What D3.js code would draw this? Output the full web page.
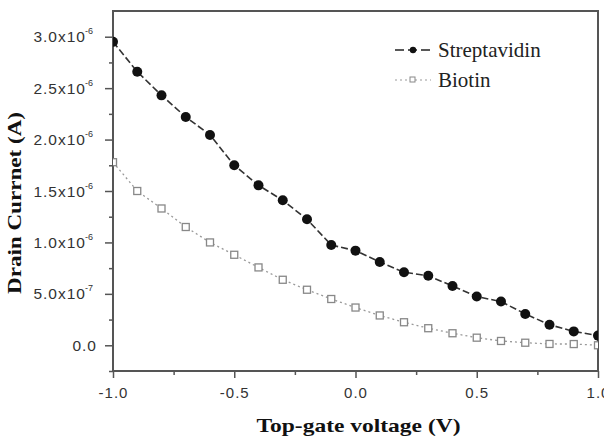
<!DOCTYPE html>
<html>
<head>
<meta charset="utf-8">
<script src="https://d3js.org/d3.v7.min.js"></script>
<style>
  body { margin: 0; background: #fff; }
</style>
</head>
<body>
<div id="my_dataviz"></div>
<script>
// create data
var voltage = [-1.0, -0.9, -0.8, -0.7, -0.6, -0.5, -0.4, -0.3, -0.2, -0.1, 0.0,
               0.1, 0.2, 0.3, 0.4, 0.5, 0.6, 0.7, 0.8, 0.9, 1.0];

var streptavidin = [2.95e-6, 2.66e-6, 2.43e-6, 2.22e-6, 2.045e-6, 1.75e-6, 1.555e-6,
                    1.41e-6, 1.225e-6, 0.975e-6, 0.92e-6, 0.81e-6, 0.71e-6, 0.676e-6,
                    0.576e-6, 0.474e-6, 0.425e-6, 0.305e-6, 0.2e-6, 0.135e-6, 0.094e-6];

var biotin = [1.78e-6, 1.50e-6, 1.33e-6, 1.15e-6, 1.0e-6, 0.88e-6, 0.757e-6,
              0.637e-6, 0.54e-6, 0.45e-6, 0.367e-6, 0.29e-6, 0.224e-6, 0.166e-6,
              0.117e-6, 0.074e-6, 0.042e-6, 0.025e-6, 0.013e-6, 0.012e-6, 0.0];

var seriesNames = ["Streptavidin", "Biotin"];

// tick labels
var xTicks = [-1.0, -0.5, 0.0, 0.5, 1.0];
var xTickLabels = ["-1.0", "-0.5", "0.0", "0.5", "1.0"];
var xMinor = [-0.75, -0.25, 0.25, 0.75];

var yTicks = [0, 5e-7, 1e-6, 1.5e-6, 2e-6, 2.5e-6, 3e-6];
var yTickMant = ["0.0", "5.0", "1.0", "1.5", "2.0", "2.5", "3.0"];
var yTickExp = ["", "-7", "-6", "-6", "-6", "-6", "-6"];
var yMinor = [-2.5e-7, 2.5e-7, 7.5e-7, 1.25e-6, 1.75e-6, 2.25e-6, 2.75e-6];

// set the dimensions and margins of the graph
var margin = {top: 11, right: 6, bottom: 70, left: 113},
    width = 604 - margin.left - margin.right,
    height = 441 - margin.top - margin.bottom;

var svg = d3.select("#my_dataviz")
  .append("svg")
    .attr("width", 604)
    .attr("height", 441)
  .append("g")
    .attr("transform", "translate(" + margin.left + "," + margin.top + ")");

var x = d3.scaleLinear().domain([-1, 1]).range([0, width]);
var y = d3.scaleLinear().domain([-0.25e-6, 3.25e-6]).range([height, 0]);

var frameColor = "#555";

// clip so that edge markers are cut by the frame
svg.append("clipPath").attr("id", "clip")
  .append("rect").attr("width", width).attr("height", height);

// minor ticks
svg.append("g")
    .attr("transform", "translate(0," + height + ")")
    .call(d3.axisBottom(x).tickValues(xMinor).tickSize(4).tickFormat(""))
    .call(function(g) { g.select(".domain").remove(); })
    .selectAll("line").attr("stroke", frameColor).attr("stroke-width", 1.5);
svg.append("g")
    .call(d3.axisLeft(y).tickValues(yMinor).tickSize(4).tickFormat(""))
    .call(function(g) { g.select(".domain").remove(); })
    .selectAll("line").attr("stroke", frameColor).attr("stroke-width", 1.5);

// X axis
var xAxis = svg.append("g")
    .attr("transform", "translate(0," + height + ")")
    .call(d3.axisBottom(x).tickValues(xTicks).tickSize(7).tickPadding(9)
      .tickFormat(function(d, i) { return xTickLabels[i]; }));
xAxis.select(".domain").remove();
xAxis.selectAll("line").attr("stroke", frameColor).attr("stroke-width", 1.5);
xAxis.selectAll("text")
    .attr("fill", "#333")
    .style("font-family", "'Liberation Sans', Arial, sans-serif")
    .style("font-size", "15px")
    .style("letter-spacing", "1px");

// Y axis: mantissa x 10 with superscript exponent
var yAxis = svg.append("g")
    .call(d3.axisLeft(y).tickValues(yTicks).tickSize(8).tickFormat(""));
yAxis.select(".domain").remove();
yAxis.selectAll("line").attr("stroke", frameColor).attr("stroke-width", 1.5);
yAxis.selectAll(".tick").each(function(d, i) {
  var t = d3.select(this).append("text")
      .attr("x", yTickExp[i] ? -20 : -16)
      .attr("y", 5)
      .attr("text-anchor", "end")
      .attr("fill", "#333")
      .style("font-family", "'Liberation Sans', Arial, sans-serif")
      .style("font-size", "15.5px");
  if (yTickExp[i]) {
    t.append("tspan").style("letter-spacing", "1px").text(yTickMant[i] + "x10");
    t.append("tspan")
      .attr("dx", -1)
      .attr("dy", -8)
      .style("font-size", "9px")
      .text(yTickExp[i]);
  } else {
    t.style("letter-spacing", "1px").text(yTickMant[i]);
  }
});

// frame
svg.append("rect")
    .attr("width", width)
    .attr("height", height)
    .attr("fill", "none")
    .attr("stroke", frameColor)
    .attr("stroke-width", 2);

// lines
var plot = svg.append("g").attr("clip-path", "url(#clip)");

var line = function(vals) {
  return d3.line()
    .x(function(d, i) { return x(voltage[i]); })
    .y(function(d) { return y(d); })(vals);
};

plot.append("path")
    .attr("d", line(biotin))
    .attr("fill", "none")
    .attr("stroke", "#999")
    .attr("stroke-width", 1.3)
    .attr("stroke-dasharray", "2,3");

plot.append("path")
    .attr("d", line(streptavidin))
    .attr("fill", "none")
    .attr("stroke", "#333")
    .attr("stroke-width", 1.6)
    .attr("stroke-dasharray", "7,3");

plot.selectAll(".sq")
  .data(biotin)
  .enter()
  .append("rect")
    .attr("x", function(d, i) { return x(voltage[i]) - 3.5; })
    .attr("y", function(d) { return y(d) - 3.5; })
    .attr("width", 7)
    .attr("height", 7)
    .attr("fill", "#fff")
    .attr("stroke", "#888")
    .attr("stroke-width", 1.3);

plot.selectAll(".dot")
  .data(streptavidin)
  .enter()
  .append("circle")
    .attr("cx", function(d, i) { return x(voltage[i]); })
    .attr("cy", function(d) { return y(d); })
    .attr("r", 5)
    .attr("fill", "#111");

// legend
var leg = svg.append("g").attr("transform", "translate(282,0)");
leg.append("line").attr("x1", 0).attr("x2", 36).attr("y1", 39).attr("y2", 39)
    .attr("stroke", "#222").attr("stroke-width", 1.6).attr("stroke-dasharray", "9,4");
leg.append("circle").attr("cx", 18).attr("cy", 39).attr("r", 3.2).attr("fill", "#111");
leg.append("line").attr("x1", 0).attr("x2", 36).attr("y1", 69).attr("y2", 69)
    .attr("stroke", "#999").attr("stroke-width", 1.2).attr("stroke-dasharray", "2,3");
leg.append("rect").attr("x", 15).attr("y", 66).attr("width", 5).attr("height", 5)
    .attr("fill", "#fff").attr("stroke", "#888").attr("stroke-width", 1);
leg.selectAll(".lt")
  .data(seriesNames)
  .enter()
  .append("text")
    .attr("x", 43)
    .attr("y", function(d, i) { return 46 + i * 30; })
    .attr("fill", "#222")
    .style("font-family", "'Liberation Serif', 'Times New Roman', serif")
    .style("font-size", "21px")
    .text(function(d) { return d; });

// axis titles
svg.append("text")
    .attr("x", width / 2 + 3)
    .attr("y", height + 61)
    .attr("text-anchor", "middle")
    .attr("textLength", 204)
    .attr("lengthAdjust", "spacingAndGlyphs")
    .attr("fill", "#111")
    .style("font-family", "'Liberation Serif', 'Times New Roman', serif")
    .style("font-weight", "bold")
    .style("font-size", "19px")
    .text("Top-gate voltage (V)");

svg.append("text")
    .attr("transform", "translate(" + (-margin.left + 21) + "," + 192 + ") rotate(-90)")
    .attr("text-anchor", "middle")
    .attr("textLength", 182)
    .attr("lengthAdjust", "spacingAndGlyphs")
    .attr("fill", "#111")
    .style("font-family", "'Liberation Serif', 'Times New Roman', serif")
    .style("font-weight", "bold")
    .style("font-size", "19px")
    .text("Drain Currnet (A)");
</script>
</body>
</html>
